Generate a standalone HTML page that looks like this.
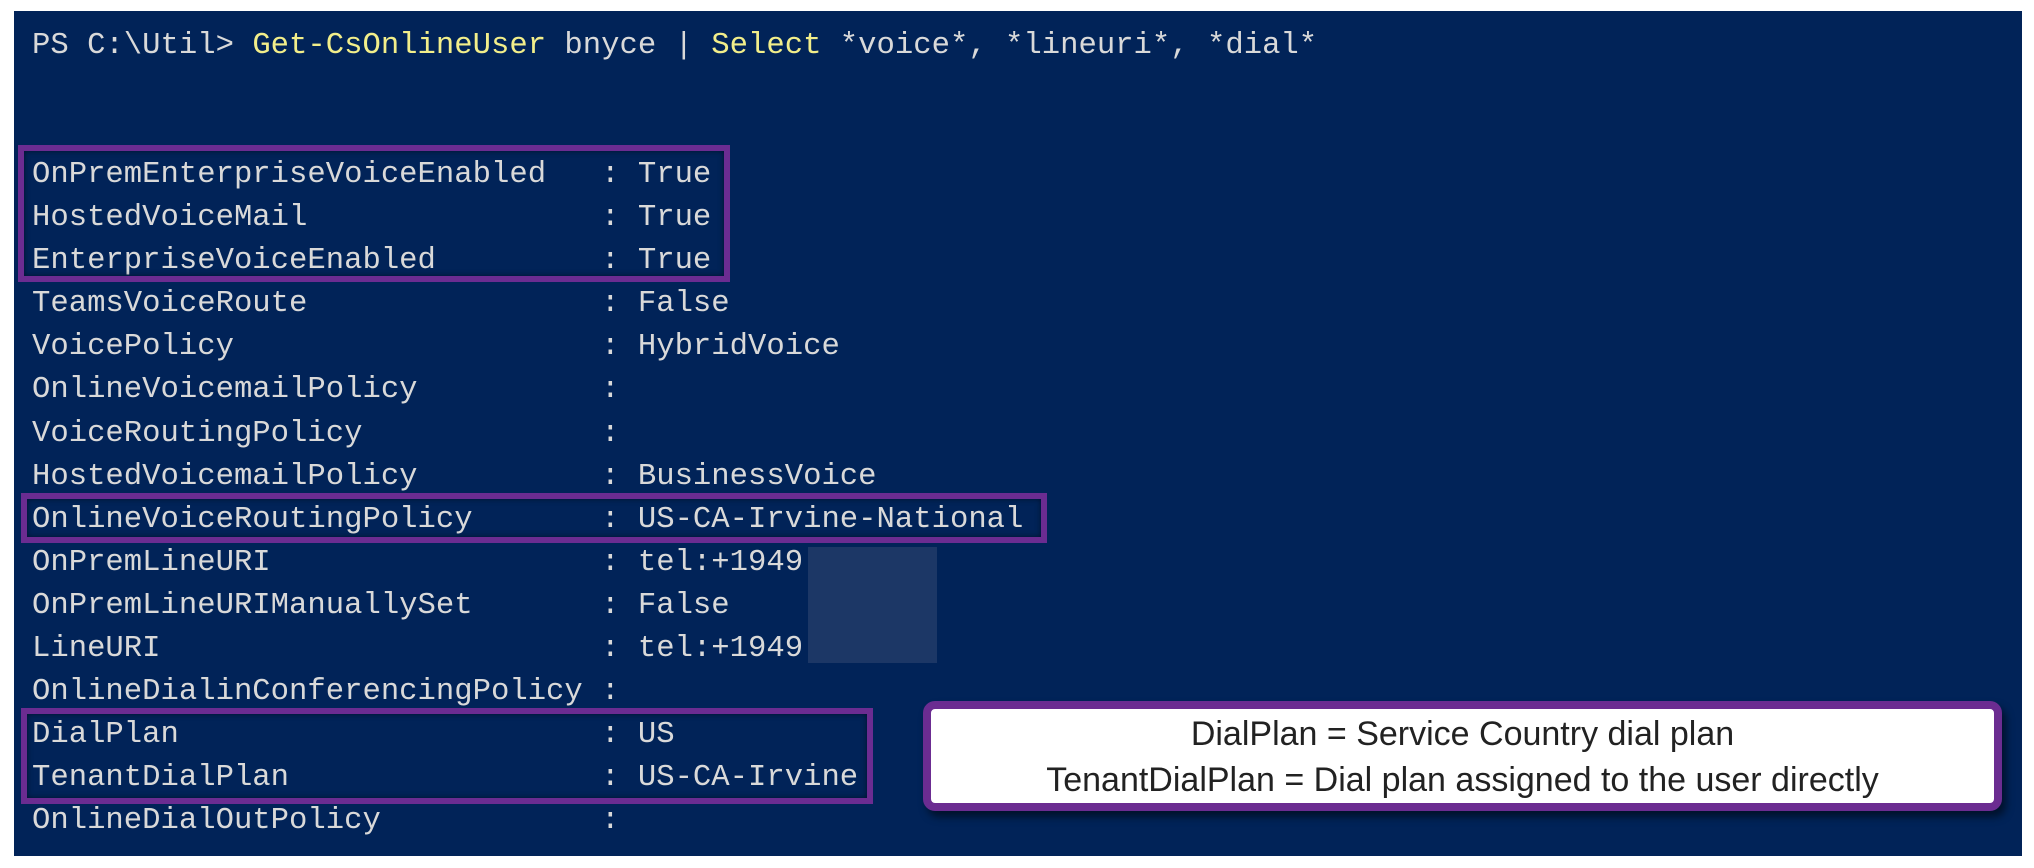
<!DOCTYPE html>
<html><head><meta charset="utf-8"><style>
html,body{margin:0;padding:0;background:#fff;width:2034px;height:868px;overflow:hidden}
#bg{position:absolute;left:14px;top:11px;width:2008px;height:845px;background:#012358}
.t{position:absolute;left:32px;font-family:"Liberation Mono",monospace;font-size:30.6px;color:#d9d9d9;white-space:pre;line-height:43.1px}
.y{color:#f2ee8a}
.box{position:absolute;border:6px solid #6b2c91;box-sizing:border-box;box-shadow:inset 0 0 6px rgba(0,0,0,.5)}
#red{position:absolute;left:808px;top:547px;width:129px;height:116px;background:#1c3766}
#call{position:absolute;left:923px;top:701px;width:1079px;height:110px;box-sizing:border-box;border:8px solid #6b2c91;border-radius:12px;background:#fff;box-shadow:4px 6px 8px rgba(0,0,0,.5);font-family:"Liberation Sans Narrow","Liberation Sans",sans-serif;font-size:34px;color:#222;text-align:center;line-height:46px;padding-top:2px}
</style></head><body>
<div id="bg"></div>
<div id="red"></div>
<div class="t" style="top:25px">PS C:\Util&gt; <span class="y">Get-CsOnlineUser</span> bnyce | <span class="y">Select</span> *voice*, *lineuri*, *dial*</div>
<div class="t" style="top:154px">OnPremEnterpriseVoiceEnabled   : True
HostedVoiceMail                : True
EnterpriseVoiceEnabled         : True
TeamsVoiceRoute                : False
VoicePolicy                    : HybridVoice
OnlineVoicemailPolicy          :
VoiceRoutingPolicy             :
HostedVoicemailPolicy          : BusinessVoice
OnlineVoiceRoutingPolicy       : US-CA-Irvine-National
OnPremLineURI                  : tel:+1949
OnPremLineURIManuallySet       : False
LineURI                        : tel:+1949
OnlineDialinConferencingPolicy :
DialPlan                       : US
TenantDialPlan                 : US-CA-Irvine
OnlineDialOutPolicy            :</div>
<div class="box" style="left:18px;top:145px;width:712px;height:137px"></div>
<div class="box" style="left:21px;top:493px;width:1026px;height:50px"></div>
<div class="box" style="left:21px;top:708px;width:852px;height:96px"></div>
<div id="call">DialPlan = Service Country dial plan<br>TenantDialPlan = Dial plan assigned to the user directly</div>
</body></html>
